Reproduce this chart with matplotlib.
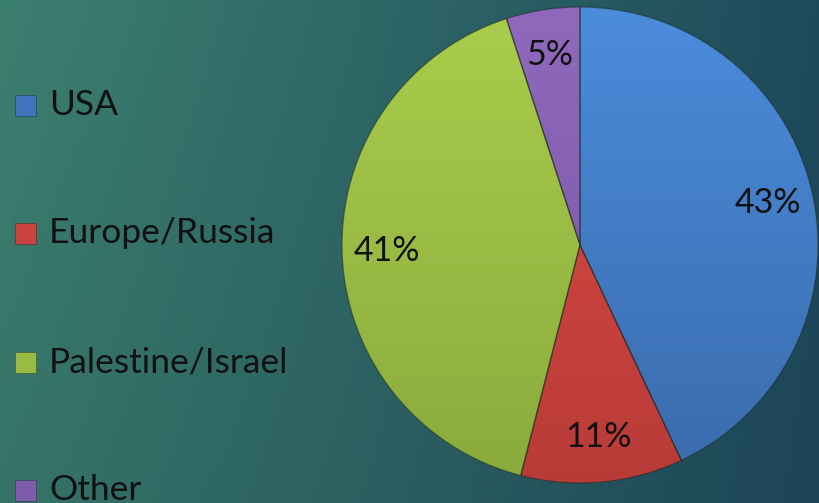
import numpy as np
import matplotlib
matplotlib.use("Agg")
import matplotlib.pyplot as plt
from matplotlib.patches import Rectangle
from matplotlib.colors import LinearSegmentedColormap

labels = ["USA", "Europe/Russia", "Palestine/Israel", "Other"]
shares = [43, 11, 41, 5]
colors_top = ["#4b8cdb", "#dc4c46", "#aacd4c", "#9069bd"]
colors_bot = ["#3a6bac", "#b93b38", "#8aab3d", "#7653a0"]
legend_colors = ["#3f74bd", "#c94440", "#99bb45", "#7f5bab"]

W, H = 819, 503
fig = plt.figure(figsize=(W / 100, H / 100), dpi=100)

# background gradient (teal, darker to the right)
bg = fig.add_axes([0, 0, 1, 1])
bg.set_axis_off()
tl, tr = np.array([0x3c, 0x80, 0x70]), np.array([0x1f, 0x4a, 0x5c])
bl, br = np.array([0x36, 0x74, 0x68]), np.array([0x1d, 0x45, 0x57])
u = np.linspace(0, 1, 200)[None, :, None]
v = np.linspace(0, 1, 120)[:, None, None]
img = (1 - v) * ((1 - u) * tl + u * tr) + v * ((1 - u) * bl + u * br)
bg.imshow(img / 255.0, extent=[0, 1, 0, 1], aspect="auto", interpolation="bilinear")
bg.set_xlim(0, 1)
bg.set_ylim(0, 1)

# pie
cx, cy, r = 580, 245, 238
ax = fig.add_axes([(cx - r) / W, (H - cy - r) / H, 2 * r / W, 2 * r / H])
wedges, texts, autotexts = ax.pie(
    shares, startangle=90, counterclock=False, radius=1,
    autopct="%d%%", pctdistance=0.81,
    wedgeprops=dict(edgecolor=(0.1, 0.15, 0.1, 0.45), linewidth=1.0),
    textprops=dict(fontsize=24.5, family="Lato", color="#111111"))
grad = np.linspace(0, 1, 256)[:, None]
for w, ct, cb in zip(wedges, colors_top, colors_bot):
    w.set_facecolor("none")
    w.set_zorder(3)
    cmap = LinearSegmentedColormap.from_list("g", [ct, cb])
    im = ax.imshow(grad, cmap=cmap, extent=[-1, 1, -1, 1], aspect="auto",
                   origin="upper", zorder=2)
    im.set_clip_path(w)
for t in autotexts:
    t.set_zorder(4)
ax.set_xlim(-1.0, 1.0)
ax.set_ylim(-1.0, 1.0)
ax.set_axis_off()

# legend
rows_y = [105, 233, 362, 490]
for lab, col, y in zip(labels, legend_colors, rows_y):
    s = 21
    fig.patches.append(Rectangle((15 / W, (H - y - s / 2) / H), s / W, s / H,
                                 transform=fig.transFigure, facecolor=col,
                                 edgecolor=(0, 0, 0, 0.3), linewidth=0.6))
    fig.text(49 / W, (H - y) / H, lab, fontsize=25.5, family="Lato",
             color="#111111", va="center", ha="left")

fig.savefig("out.png", dpi=100)
